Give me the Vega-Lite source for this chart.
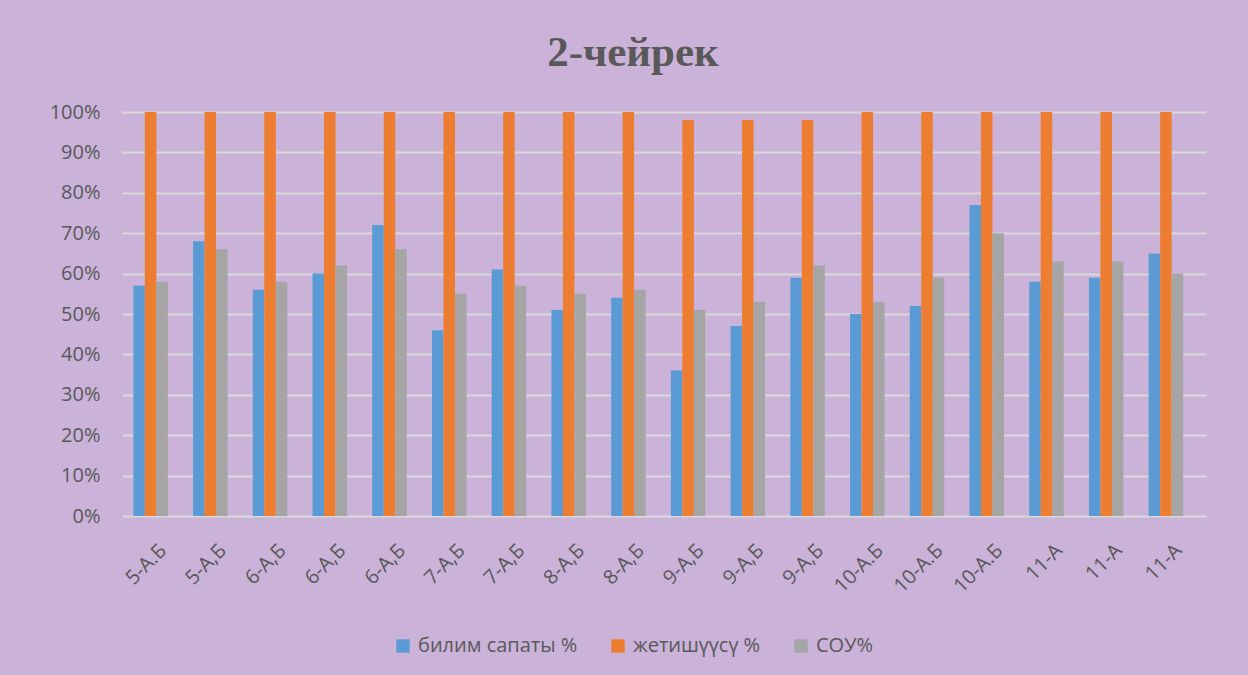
{
  "$schema": "https://vega.github.io/schema/vega-lite/v6.json",
  "width": 1084,
  "height": 404,
  "autosize": {"type": "none"},
  "padding": {"left": 122, "top": 112, "right": 42, "bottom": 159},
  "background": "#CAB2D9",
  "title": {
    "text": "2-чейрек",
    "font": "Liberation Serif",
    "fontSize": 43,
    "fontWeight": "bold",
    "color": "#595959",
    "anchor": "middle",
    "baseline": "alphabetic",
    "dx": -31,
    "dy": 37,
    "offset": 30
  },
  "datasets": {
    "scores": [
      {"cls": "5-А.Б|1", "series": "билим сапаты %", "value": 57},
      {"cls": "5-А.Б|1", "series": "жетишүүсү %", "value": 100},
      {"cls": "5-А.Б|1", "series": "СОУ%", "value": 58},
      {"cls": "5-А,Б|2", "series": "билим сапаты %", "value": 68},
      {"cls": "5-А,Б|2", "series": "жетишүүсү %", "value": 100},
      {"cls": "5-А,Б|2", "series": "СОУ%", "value": 66},
      {"cls": "6-А,Б|3", "series": "билим сапаты %", "value": 56},
      {"cls": "6-А,Б|3", "series": "жетишүүсү %", "value": 100},
      {"cls": "6-А,Б|3", "series": "СОУ%", "value": 58},
      {"cls": "6-А,Б|4", "series": "билим сапаты %", "value": 60},
      {"cls": "6-А,Б|4", "series": "жетишүүсү %", "value": 100},
      {"cls": "6-А,Б|4", "series": "СОУ%", "value": 62},
      {"cls": "6-А,Б|5", "series": "билим сапаты %", "value": 72},
      {"cls": "6-А,Б|5", "series": "жетишүүсү %", "value": 100},
      {"cls": "6-А,Б|5", "series": "СОУ%", "value": 66},
      {"cls": "7-А,Б|6", "series": "билим сапаты %", "value": 46},
      {"cls": "7-А,Б|6", "series": "жетишүүсү %", "value": 100},
      {"cls": "7-А,Б|6", "series": "СОУ%", "value": 55},
      {"cls": "7-А,Б|7", "series": "билим сапаты %", "value": 61},
      {"cls": "7-А,Б|7", "series": "жетишүүсү %", "value": 100},
      {"cls": "7-А,Б|7", "series": "СОУ%", "value": 57},
      {"cls": "8-А,Б|8", "series": "билим сапаты %", "value": 51},
      {"cls": "8-А,Б|8", "series": "жетишүүсү %", "value": 100},
      {"cls": "8-А,Б|8", "series": "СОУ%", "value": 55},
      {"cls": "8-А,Б|9", "series": "билим сапаты %", "value": 54},
      {"cls": "8-А,Б|9", "series": "жетишүүсү %", "value": 100},
      {"cls": "8-А,Б|9", "series": "СОУ%", "value": 56},
      {"cls": "9-А,Б|10", "series": "билим сапаты %", "value": 36},
      {"cls": "9-А,Б|10", "series": "жетишүүсү %", "value": 98},
      {"cls": "9-А,Б|10", "series": "СОУ%", "value": 51},
      {"cls": "9-А,Б|11", "series": "билим сапаты %", "value": 47},
      {"cls": "9-А,Б|11", "series": "жетишүүсү %", "value": 98},
      {"cls": "9-А,Б|11", "series": "СОУ%", "value": 53},
      {"cls": "9-А,Б|12", "series": "билим сапаты %", "value": 59},
      {"cls": "9-А,Б|12", "series": "жетишүүсү %", "value": 98},
      {"cls": "9-А,Б|12", "series": "СОУ%", "value": 62},
      {"cls": "10-А.Б|13", "series": "билим сапаты %", "value": 50},
      {"cls": "10-А.Б|13", "series": "жетишүүсү %", "value": 100},
      {"cls": "10-А.Б|13", "series": "СОУ%", "value": 53},
      {"cls": "10-А.Б|14", "series": "билим сапаты %", "value": 52},
      {"cls": "10-А.Б|14", "series": "жетишүүсү %", "value": 100},
      {"cls": "10-А.Б|14", "series": "СОУ%", "value": 59},
      {"cls": "10-А.Б|15", "series": "билим сапаты %", "value": 77},
      {"cls": "10-А.Б|15", "series": "жетишүүсү %", "value": 100},
      {"cls": "10-А.Б|15", "series": "СОУ%", "value": 70},
      {"cls": "11-А|16", "series": "билим сапаты %", "value": 58},
      {"cls": "11-А|16", "series": "жетишүүсү %", "value": 100},
      {"cls": "11-А|16", "series": "СОУ%", "value": 63},
      {"cls": "11-А|17", "series": "билим сапаты %", "value": 59},
      {"cls": "11-А|17", "series": "жетишүүсү %", "value": 100},
      {"cls": "11-А|17", "series": "СОУ%", "value": 63},
      {"cls": "11-А|18", "series": "билим сапаты %", "value": 65},
      {"cls": "11-А|18", "series": "жетишүүсү %", "value": 100},
      {"cls": "11-А|18", "series": "СОУ%", "value": 60}
    ]
  },
  "data": {"name": "scores"},
  "mark": {"type": "bar"},
  "encoding": {
    "x": {
      "field": "cls",
      "type": "nominal",
      "sort": null,
      "scale": {"paddingInner": 0.23, "paddingOuter": 0.19},
      "axis": {
        "title": null,
        "labelExpr": "split(datum.value, '|')[0]",
        "labelAngle": -45,
        "labelFont": "Open Sans",
        "labelFontSize": 20,
        "labelColor": "#595959",
        "labelPadding": 24,
        "labelDx": -8,
        "ticks": false,
        "domain": false,
        "grid": false
      }
    },
    "xOffset": {
      "field": "series",
      "scale": {"domain": ["билим сапаты %", "жетишүүсү %", "СОУ%", "_"], "paddingInner": 0}
    },
    "y": {
      "field": "value",
      "type": "quantitative",
      "scale": {"domain": [0, 100], "nice": false},
      "axis": {
        "title": null,
        "values": [0, 10, 20, 30, 40, 50, 60, 70, 80, 90, 100],
        "labelExpr": "datum.value + '%'",
        "labelFont": "Open Sans",
        "labelFontSize": 20,
        "labelColor": "#595959",
        "labelPadding": 22,
        "ticks": false,
        "domain": false,
        "grid": true,
        "gridColor": "#D9D9D9",
        "gridWidth": 2
      }
    },
    "color": {
      "field": "series",
      "type": "nominal",
      "scale": {
        "domain": ["билим сапаты %", "жетишүүсү %", "СОУ%"],
        "range": ["#5B9BD5", "#ED7D31", "#A5A5A5"]
      },
      "legend": {
        "title": null,
        "orient": "none",
        "direction": "horizontal",
        "legendX": 271,
        "legendY": 524,
        "symbolType": "square",
        "symbolSize": 180,
        "symbolStrokeWidth": 0,
        "symbolOpacity": 1,
        "labelFont": "Open Sans",
        "labelFontSize": 20,
        "labelColor": "#595959",
        "labelOffset": 5,
        "columnPadding": 30
      }
    }
  },
  "config": {"view": {"stroke": null}}
}
